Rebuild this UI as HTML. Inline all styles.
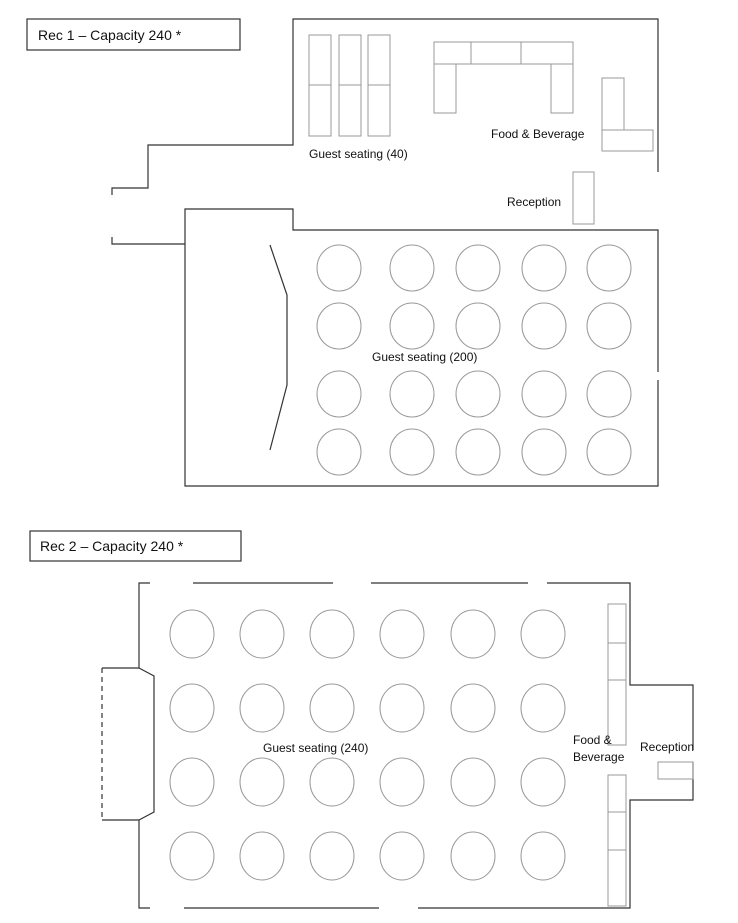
<!DOCTYPE html>
<html><head><style>
body{margin:0;background:#fff}
svg text{font-family:"Liberation Sans",sans-serif;font-size:12px;fill:#111}
</style></head><body>
<svg width="738" height="918" viewBox="0 0 738 918" xmlns="http://www.w3.org/2000/svg">
<g fill="none" stroke="#333" stroke-width="1.2">
<rect x="27" y="19" width="213" height="31"/>
<polyline points="658,172 658,19 293,19 293,145 148,145 148,188 112,188 112,195"/>
<polyline points="112,237 112,244 185,244"/>
<polyline points="658,372 658,230 293,230 293,209 185,209 185,486 658,486 658,380"/>
<polyline points="270,245 287,295 287,385 270,450"/>
<rect x="30" y="531" width="211" height="30"/>
<polyline points="150,583 139,583 139,668 102,668"/>
<line x1="193" y1="583" x2="333" y2="583"/>
<line x1="371" y1="583" x2="528" y2="583"/>
<polyline points="547,583 630,583 630,685 693,685 693,750"/>
<polyline points="693,762 693,800 630,800 630,908 588,908"/>
<line x1="418" y1="908" x2="588" y2="908"/>
<line x1="184" y1="908" x2="379" y2="908"/>
<polyline points="150,908 139,908 139,820 102,820"/>
<polyline points="139,668 154,676 154,812 139,820"/>
<line x1="102" y1="668" x2="102" y2="820" stroke-dasharray="5,4"/>
</g>
<g fill="none" stroke="#999" stroke-width="1">
<rect x="309" y="35" width="22" height="101"/><line x1="309" y1="85" x2="331" y2="85"/>
<rect x="339" y="35" width="22" height="101"/><line x1="339" y1="85" x2="361" y2="85"/>
<rect x="368" y="35" width="22" height="101"/><line x1="368" y1="85" x2="390" y2="85"/>
<rect x="434" y="42" width="139" height="22"/><line x1="471" y1="42" x2="471" y2="64"/><line x1="521" y1="42" x2="521" y2="64"/>
<rect x="434" y="64" width="22" height="49"/><rect x="551" y="64" width="22" height="49"/>
<rect x="602" y="78" width="22" height="52"/><rect x="602" y="130" width="51" height="21"/>
<rect x="573" y="172" width="21" height="52"/>
<g id="r1">
<ellipse cx="339" cy="268" rx="22" ry="23"/><ellipse cx="412" cy="268" rx="22" ry="23"/><ellipse cx="478" cy="268" rx="22" ry="23"/><ellipse cx="544" cy="268" rx="22" ry="23"/><ellipse cx="609" cy="268" rx="22" ry="23"/>
</g>
<use href="#r1" y="58"/><use href="#r1" y="126"/><use href="#r1" y="184"/>
<g id="r2">
<ellipse cx="192" cy="634" rx="22" ry="24"/><ellipse cx="262" cy="634" rx="22" ry="24"/><ellipse cx="332" cy="634" rx="22" ry="24"/><ellipse cx="402" cy="634" rx="22" ry="24"/><ellipse cx="473" cy="634" rx="22" ry="24"/><ellipse cx="543" cy="634" rx="22" ry="24"/>
</g>
<use href="#r2" y="74"/><use href="#r2" y="148"/><use href="#r2" y="222"/>
<rect x="608" y="604" width="18" height="141"/><line x1="608" y1="643" x2="626" y2="643"/><line x1="608" y1="680" x2="626" y2="680"/>
<rect x="608" y="775" width="18" height="131"/><line x1="608" y1="812" x2="626" y2="812"/><line x1="608" y1="850" x2="626" y2="850"/>
<rect x="658" y="762" width="35" height="17"/>
</g>
<text x="38" y="40" style="font-size:14px">Rec 1 – Capacity 240 *</text>
<text x="309" y="158">Guest seating (40)</text>
<text x="491" y="138">Food &amp; Beverage</text>
<text x="507" y="206">Reception</text>
<text x="372" y="361">Guest seating (200)</text>
<text x="40" y="551" style="font-size:14px">Rec 2 – Capacity 240 *</text>
<text x="263" y="752">Guest seating (240)</text>
<text x="573" y="744">Food &amp;</text>
<text x="573" y="761">Beverage</text>
<text x="640" y="751">Reception</text>
</svg>
</body></html>
